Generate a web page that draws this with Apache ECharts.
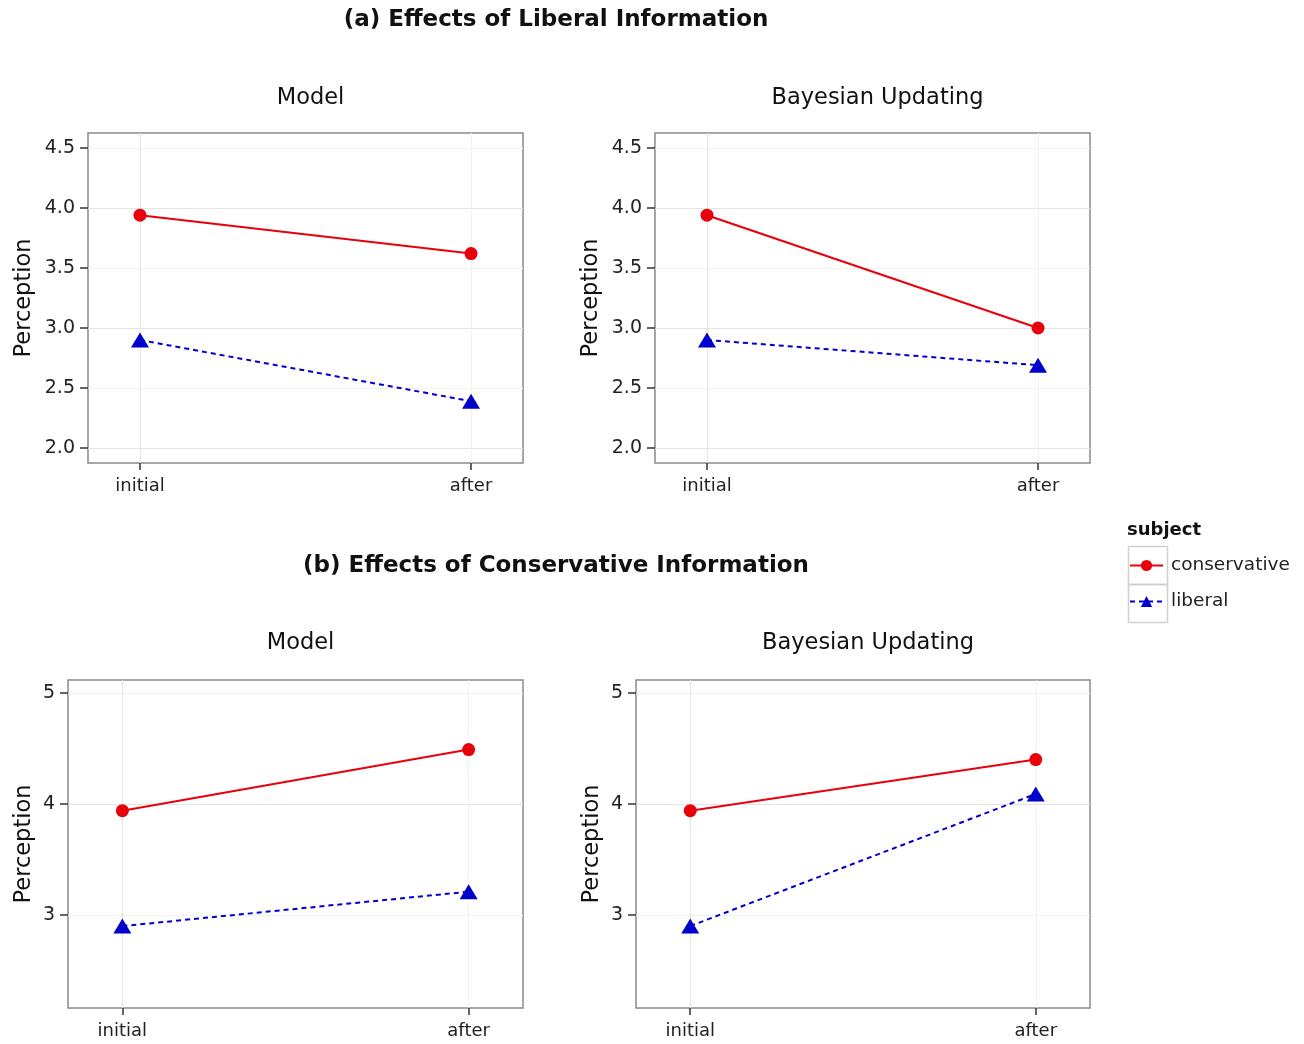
<!DOCTYPE html>
<html><head><meta charset="utf-8">
<script src="https://cdn.jsdelivr.net/npm/echarts@6/dist/echarts.min.js"></script>
<style>html,body{margin:0;padding:0;background:#fff}#c{width:1304px;height:1044px}</style>
</head><body><div id="c"></div>
<script>
// ---- data ----
var xLabels = ['initial', 'after'];
var subjects = ['conservative', 'liberal'];
var panelTitles = ['Model', 'Bayesian Updating', 'Model', 'Bayesian Updating'];
var sectionTitles = ['(a) Effects of Liberal Information', '(b) Effects of Conservative Information'];
// (a) liberal information
var aModelConservative = [3.94, 3.62];
var aModelLiberal      = [2.90, 2.39];
var aBayesConservative = [3.94, 3.00];
var aBayesLiberal      = [2.90, 2.69];
// (b) conservative information
var bModelConservative = [3.94, 4.49];
var bModelLiberal      = [2.90, 3.21];
var bBayesConservative = [3.94, 4.40];
var bBayesLiberal      = [2.90, 4.09];
// tick labels
var topYTicks = [2.0, 2.5, 3.0, 3.5, 4.0, 4.5];
var topYGrid  = [2.0, 2.25, 2.5, 2.75, 3.0, 3.25, 3.5, 3.75, 4.0, 4.25, 4.5];
var botYTicks = [3, 4, 5];
var botYGrid  = [2.5, 3, 3.5, 4, 4.5, 5];

var panelData = [
  [aModelConservative, aModelLiberal],
  [aBayesConservative, aBayesLiberal],
  [bModelConservative, bModelLiberal],
  [bBayesConservative, bBayesLiberal]
];

var FONT = 'DejaVu Sans';
var grids = [
  {left: 88, top: 133, width: 435, height: 330},
  {left: 655, top: 133, width: 435, height: 330},
  {left: 68, top: 680, width: 455, height: 328},
  {left: 636, top: 680, width: 454, height: 328}
];
var nameGaps = [52, 52, 32, 32];
var RED = '#e8000b', BLUE = '#0000cc';

var xAxes = [], yAxes = [], series = [], titles = [];
grids.forEach(function (g, i) {
  g.show = true; g.borderColor = '#8a8a8a'; g.borderWidth = 1.5; g.backgroundColor = '#fff';
  xAxes.push({
    type: 'value', gridIndex: i, min: -0.157, max: 1.157,
    axisLine: {show: false, onZero: false},
    axisTick: {show: true, length: 7, lineStyle: {color: '#333', width: 1.5}, customValues: [0, 1]},
    axisLabel: {customValues: [0, 1], fontFamily: FONT, fontSize: 18, color: '#222', margin: 14,
      formatter: function (v) { return xLabels[Math.round(v)]; }},
    splitLine: {show: true, customValues: [0, 0.5, 1], lineStyle: {color: ['#e4e4e4', '#f2f2f2', '#e4e4e4'], width: 1}}
  });
  var top = i < 2;
  yAxes.push({
    type: 'value', gridIndex: i,
    min: top ? 1.875 : 2.162, max: top ? 4.625 : 5.117,
    name: 'Perception', nameLocation: 'middle', nameGap: nameGaps[i],
    nameTextStyle: {fontFamily: FONT, fontSize: 22.5, color: '#111'},
    axisLine: {show: false, onZero: false},
    axisTick: {show: true, length: 8, lineStyle: {color: '#333', width: 1.5}, customValues: top ? topYTicks : botYTicks},
    axisLabel: {customValues: top ? topYTicks : botYTicks, fontFamily: FONT, fontSize: 19, color: '#222', margin: 13,
      formatter: function (v) { return top ? v.toFixed(1) : String(v); }},
    splitLine: {show: true, customValues: top ? topYGrid : botYGrid,
      lineStyle: {color: top ? ['#e4e4e4', '#f2f2f2'] : ['#f2f2f2', '#e4e4e4'], width: 1}}
  });
  titles.push({
    text: panelTitles[i], left: g.left + g.width / 2, top: g.top - (top ? 51 : 53), textAlign: 'center',
    textStyle: {fontFamily: FONT, fontSize: 22.5, fontWeight: 'normal', color: '#111'}
  });
  var d = panelData[i];
  series.push({
    name: subjects[0], type: 'line', xAxisIndex: i, yAxisIndex: i,
    data: d[0].map(function (v, k) { return [k, v]; }),
    symbol: 'circle', symbolSize: 13,
    lineStyle: {color: RED, width: 2}, itemStyle: {color: RED}, z: 3
  });
  series.push({
    name: subjects[1], type: 'line', xAxisIndex: i, yAxisIndex: i,
    data: d[1].map(function (v, k) { return [k, v]; }),
    symbol: 'triangle', symbolSize: [18, 15],
    lineStyle: {color: BLUE, width: 2, type: [5, 4]}, itemStyle: {color: BLUE}, z: 2
  });
});
titles.push({text: sectionTitles[0], left: 551, top: 4, textAlign: 'center',
  textStyle: {fontFamily: FONT, fontSize: 23, fontWeight: 'bold', color: '#111'}});
titles.push({text: sectionTitles[1], left: 551, top: 550, textAlign: 'center',
  textStyle: {fontFamily: FONT, fontSize: 23, fontWeight: 'bold', color: '#111'}});
titles.push({text: 'subject', left: 1122, top: 516,
  textStyle: {fontFamily: FONT, fontSize: 18, fontWeight: 'bold', color: '#111'}});

var chart = echarts.init(document.getElementById('c'), null, {renderer: 'canvas'});
chart.setOption({
  animation: false,
  backgroundColor: '#fff',
  title: titles,
  grid: grids,
  xAxis: xAxes,
  yAxis: yAxes,
  series: series,
  legend: {
    data: subjects, orient: 'vertical', left: 1129, top: 556, padding: 0,
    itemWidth: 33, itemHeight: 14, itemGap: 17,
    textStyle: {fontFamily: FONT, fontSize: 18.5, color: '#222', padding: [0, 0, 0, 3]}
  },
  graphic: [
    {type: 'rect', left: 1126, top: 544, shape: {width: 39, height: 38}, style: {fill: 'none', stroke: '#d0d0d0', lineWidth: 1.5}, z: -1},
    {type: 'rect', left: 1126, top: 582, shape: {width: 39, height: 38}, style: {fill: 'none', stroke: '#d0d0d0', lineWidth: 1.5}, z: -1}
  ]
});
</script></body></html>
